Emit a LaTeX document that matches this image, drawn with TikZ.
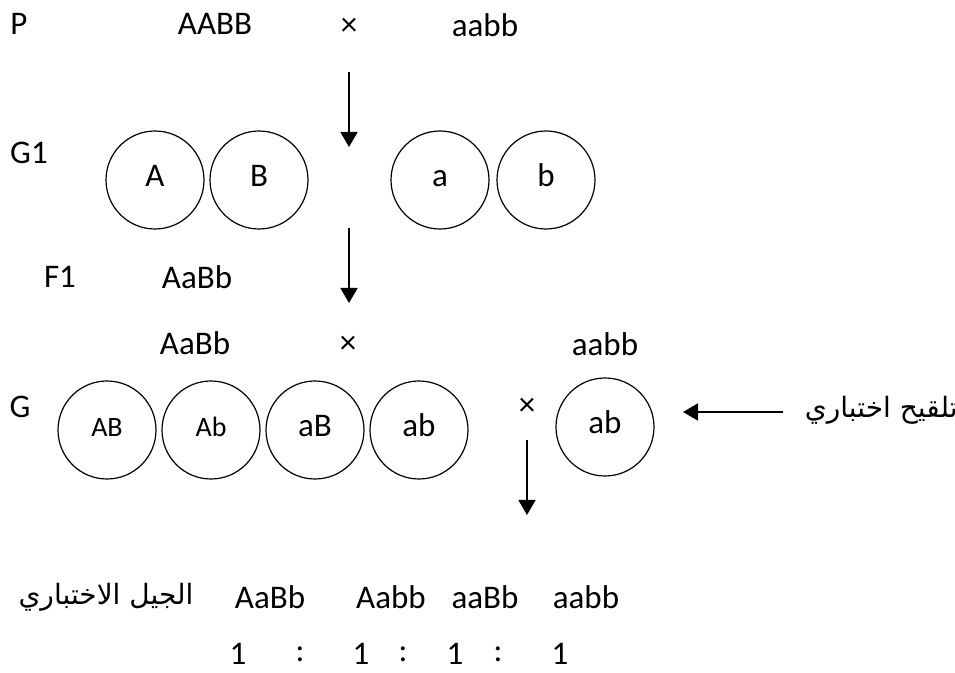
\documentclass[tikz,border=0pt]{standalone}
\usepackage{fontspec}
\setmainfont{Carlito}
\newfontfamily\arabicfont[Script=Arabic]{DejaVu Sans}
\TeXXeTstate=1
\usetikzlibrary{arrows.meta}
\begin{document}
\begin{tikzpicture}[x=0.5pt,y=-0.5pt,font=\fontsize{16.5}{20}\selectfont,line join=round,
 >={Triangle[length=7.5pt,width=8.5pt]},
 gam/.style={draw,circle,minimum size=49pt,inner sep=0pt,line width=0.6pt,text height=0.7em,text depth=0pt},
 small/.style={font=\fontsize{14}{17}\selectfont},
 arr/.style={->,line width=0.9pt},
 artext/.style={font=\fontsize{14}{17}\selectfont\arabicfont,inner sep=0pt}]
 \useasboundingbox (0,0) rectangle (955,673);
 % parents
 \node (P) at (19,24) {P};
 \node (p1) at (215,24) {AABB};
 \node (x1) at (349,27) {×};
 \node (p2) at (485,25) {aabb};
 \coordinate (a1s) at (349,72); \coordinate (a1e) at (349,147);
 \draw[arr] (a1s) -- (a1e);
 % gametes G1
 \node (G1) at (29,153) {G1};
 \foreach \x/\g in {155/A,259/B,440/a,546/b}
 \node[gam] (g\g) at (\x,180) {\g};
 \coordinate (a2s) at (349,228); \coordinate (a2e) at (349,303);
 \draw[arr] (a2s) -- (a2e);
 % F1
 \node (F1) at (60,277) {F1};
 \node (f1) at (197,277) {AaBb};
 \node (c1) at (195,343) {AaBb};
 \node (x2) at (348,345) {×};
 \node (c2) at (605,344) {aabb};
 % gametes G
 \node (G) at (20,407) {G};
 \node[gam,small] (gAB) at (107,430) {AB};
 \node[gam,small] (gAb) at (211,430) {Ab};
 \node[gam] (gaB) at (315,430) {aB};
 \node[gam] (gab) at (419,430) {ab};
 \node (x3) at (527,407) {×};
 \node[gam] (gab2) at (605,427) {ab};
 \coordinate (a3s) at (527,440); \coordinate (a3e) at (527,515);
 \draw[arr] (a3s) -- (a3e);
 \node[artext,anchor=east] (tc) at (958,410) {\beginR تلقيح اختباري\endR};
 \coordinate (a4s) at (783,412); \coordinate (a4e) at (683,412);
 \draw[arr] (a4s) -- (a4e);
 % test cross offspring
 \node[artext] (tg) at (106,597) {\beginR الجيل الاختباري\endR};
 \foreach \x/\t [count=\i] in {270/AaBb,391/Aabb,485/aaBb,586/aabb}
 \node (o\i) at (\x,597) {\t};
 \foreach \x/\t [count=\i] in {238/1,300/:,361/1,403/:,455/1,498/:,560/1}
 \node[inner sep=1pt] (r\i) at (\x,654) {\t};
\end{tikzpicture}
\end{document}
